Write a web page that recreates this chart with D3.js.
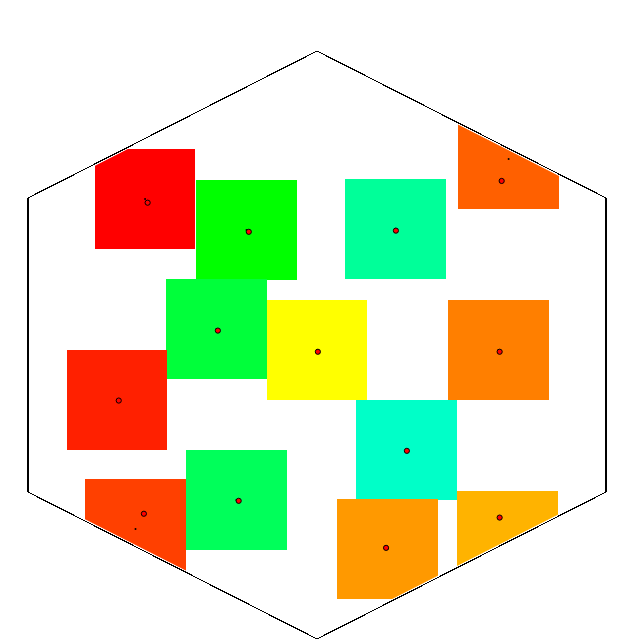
<!DOCTYPE html>
<html>
<head>
<meta charset="utf-8">
<script src="https://cdn.jsdelivr.net/npm/d3@7"></script>
<style>
html,body{margin:0;padding:0;background:#fff;}
svg{display:block;}
</style>
</head>
<body>
<svg id="chart" width="630" height="640"></svg>
<script>
// Hexagon boundary (normalized data coordinates)
const hexX = [0, 1, 1, 0, -1, -1];
const hexY = [1, 0.5, -0.5, -1, -0.5, 0.5];

// Square cells: site centers (small black points)
const siteX = [-0.595, -0.244, 0.272, 0.663, -0.348, 0.000, 0.628, -0.692, 0.310, -0.628, -0.279, 0.244, 0.659];
const siteY = [0.497, 0.391, 0.395, 0.633, 0.054, -0.017, -0.017, -0.187, -0.357, -0.626, -0.527, -0.694, -0.668];

// Centroids of the clipped cells (red points)
const centX = [-0.586, -0.236, 0.273, 0.639, -0.343, 0.003, 0.632, -0.686, 0.311, -0.599, -0.271, 0.239, 0.632];
const centY = [0.484, 0.385, 0.389, 0.558, 0.049, -0.023, -0.023, -0.189, -0.360, -0.574, -0.530, -0.690, -0.587];

// Fill colours of the cells
const cellColors = ["#ff0000", "#00ff00", "#00ff99", "#ff6000", "#00ff3a", "#ffff00", "#ff7f00",
                    "#ff2000", "#00ffc8", "#ff4000", "#00ff5a", "#ff9900", "#ffb300"];

const cellW = 0.349, cellH = 0.340;

const svg = d3.select("#chart");
const x = d3.scaleLinear().domain([-1, 1]).range([28, 606]);
const y = d3.scaleLinear().domain([-1, 1]).range([639, 51]);

const hex = hexX.map((v, i) => [v, hexY[i]]);
const inset = 0.994;

svg.append("defs").append("clipPath").attr("id", "hexclip")
  .append("polygon")
  .attr("points", hex.map(p => [x(p[0] * inset), y(p[1] * inset)].join(",")).join(" "));

const cells = siteX.map((v, i) => ({sx: v, sy: siteY[i], cx: centX[i], cy: centY[i], color: cellColors[i]}));

svg.append("g").attr("clip-path", "url(#hexclip)")
  .selectAll("rect").data(cells).join("rect")
  .attr("x", d => x(d.sx - cellW / 2))
  .attr("y", d => y(d.sy + cellH / 2))
  .attr("width", d => x(d.sx + cellW / 2) - x(d.sx - cellW / 2))
  .attr("height", d => y(d.sy - cellH / 2) - y(d.sy + cellH / 2))
  .attr("fill", d => d.color)
  .attr("shape-rendering", "crispEdges");

svg.append("g").attr("clip-path", "url(#hexclip)")
  .selectAll("circle").data(cells).join("circle")
  .attr("cx", d => x(d.sx))
  .attr("cy", d => y(d.sy))
  .attr("r", 1)
  .attr("fill", "#000");

svg.append("polygon")
  .attr("points", hex.map(p => [x(p[0]), y(p[1])].join(",")).join(" "))
  .attr("fill", "none")
  .attr("stroke", "#000")
  .attr("stroke-width", 1.2)
  .attr("shape-rendering", "crispEdges");

svg.append("g").selectAll("circle").data(cells).join("circle")
  .attr("cx", d => x(d.cx))
  .attr("cy", d => y(d.cy))
  .attr("r", 2.6)
  .attr("fill", "#ff0000")
  .attr("stroke", "#000")
  .attr("stroke-width", 1);
</script>
</body>
</html>
